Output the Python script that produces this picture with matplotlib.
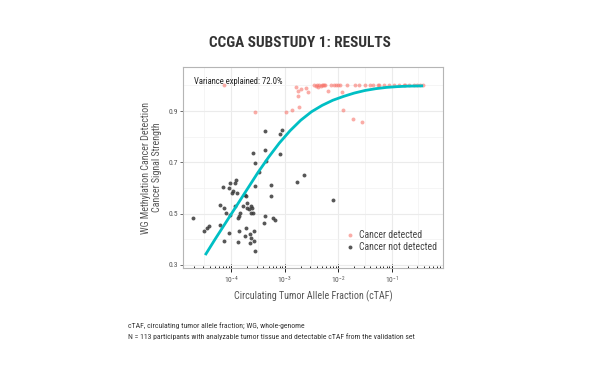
import numpy as np
import matplotlib
matplotlib.use("Agg")
import matplotlib.pyplot as plt
from matplotlib import font_manager

# ---------------- data ----------------
# log10(cTAF) and signal strength, cancer NOT detected
nd_log_ctaf = [-4.715, -4.503, -4.46, -4.412, -4.2, -4.2, -4.14, -4.15, -4.14, -4.097,
               -4.048, -4.03, -4.048, -4.018, -3.976, -3.958, -3.927, -3.909, -3.927, -3.885,
               -3.879, -3.855, -3.867, -3.855, -3.836, -3.776, -3.745, -3.733, -3.715, -3.703,
               -3.715, -3.697, -3.673, -3.655, -3.655, -3.636, -3.624, -3.624, -3.612, -3.594,
               -3.576, -3.576, -3.594, -3.564, -3.552, -3.564, -3.473, -3.37, -3.37, -3.382,
               -3.37, -3.352, -3.26, -3.26, -3.212, -3.18, -3.079, -3.048, -3.079, -2.764,
               -2.636, -2.09]
nd_signal = [0.483, 0.432, 0.444, 0.451, 0.457, 0.535, 0.522, 0.604, 0.393, 0.503,
             0.600, 0.619, 0.425, 0.496, 0.580, 0.587, 0.619, 0.630, 0.529, 0.580,
             0.483, 0.490, 0.389, 0.432, 0.503, 0.529, 0.412, 0.574, 0.567, 0.522,
             0.444, 0.541, 0.516, 0.419, 0.384, 0.406, 0.529, 0.503, 0.522, 0.503,
             0.432, 0.393, 0.738, 0.697, 0.606, 0.354, 0.664, 0.822, 0.749, 0.464,
             0.490, 0.705, 0.613, 0.567, 0.483, 0.474, 0.811, 0.824, 0.733, 0.622,
             0.652, 0.552]

# cancer detected
det_log_ctaf = [-4.127, -3.564, -2.97, -2.87, -2.79, -2.76, -2.745, -2.73, -2.69, -2.6,
                -2.56, -2.45, -2.42, -2.40, -2.38, -2.35, -2.33, -2.31, -2.29, -2.26,
                -2.24, -2.2, -2.14, -2.08, -2.04, -2.0, -1.96, -1.93, -1.91, -1.84,
                -1.73, -1.68, -1.62, -1.56, -1.50, -1.41, -1.35, -1.26, -1.23, -1.14,
                -1.05, -0.96, -0.87, -0.78, -0.75, -0.68, -0.59, -0.53, -0.47, -0.41]
det_signal = [1.001, 0.895, 0.897, 0.904, 0.994, 0.979, 0.958, 0.916, 0.985, 0.989,
              0.974, 1.001, 0.998, 1.001, 0.995, 1.001, 0.997, 1.001, 1.0, 1.001,
              1.001, 0.979, 1.001, 1.001, 1.001, 1.001, 1.001, 0.975, 0.904, 1.001,
              0.870, 1.001, 1.001, 0.858, 1.001, 1.001, 1.001, 1.001, 1.001, 1.001,
              1.001, 1.001, 1.001, 1.001, 1.001, 1.001, 1.001, 1.001, 1.001, 1.001]

# fitted curve, points
fit_log_ctaf = [-4.485, -4.3, -4.1, -3.9, -3.7, -3.5, -3.3, -3.1, -2.9, -2.7, -2.5,
                -2.3, -2.1, -1.9, -1.7, -1.5, -1.3, -1.1, -0.9, -0.7, -0.413]
fit_signal = [0.338, 0.400, 0.465, 0.530, 0.595, 0.660, 0.720, 0.775, 0.823, 0.864, 0.897,
              0.922, 0.942, 0.957, 0.970, 0.980, 0.987, 0.992, 0.995, 0.997, 0.998]

y_ticks = [0.3, 0.5, 0.7, 0.9]
x_decades = [-4, -3, -2, -1]

title = "CCGA SUBSTUDY 1: RESULTS"
annot = "Variance explained: 72.0%"
xlabel = "Circulating Tumor Allele Fraction (cTAF)"
ylabel = "WG Methylation Cancer Detection\nCancer Signal Strength"
legend_labels = ["Cancer detected", "Cancer not detected"]
foot1 = "cTAF, circulating tumor allele fraction; WG, whole-genome"
foot2 = "N = 113 participants with analyzable tumor tissue and detectable cTAF from the validation set"

# ---------------- fonts ----------------
ttf = font_manager.fontManager.ttflist
names = {f.name for f in ttf}
pref = ["Roboto Condensed", "Archivo Narrow", "PT Sans Narrow", "Fira Sans Condensed",
        "IBM Plex Sans Condensed", "Barlow Semi Condensed", "Sofia Sans Semi Condensed",
        "Sofia Sans Condensed", "Liberation Sans"]
body_font = next((p for p in pref if p in names), "DejaVu Sans")


def has_static_bold(name):
    return any(f.name == name and (f.weight in (700, 'bold')) and '[' not in f.fname
               for f in ttf)


title_pref = ["Roboto Condensed", "Archivo Narrow", "PT Sans Narrow", "Fira Sans Condensed",
              "IBM Plex Sans Condensed", "Barlow Semi Condensed", "Saira SemiCondensed",
              "Liberation Sans"]
title_font = next((p for p in title_pref if p in names and has_static_bold(p)), body_font)

plt.rcParams['font.family'] = [body_font, 'DejaVu Sans']
plt.rcParams['mathtext.fontset'] = 'custom'
plt.rcParams['mathtext.rm'] = body_font
plt.rcParams['mathtext.it'] = body_font

# ---------------- figure ----------------
fig = plt.figure(figsize=(6.0, 3.65), dpi=100)
ax = fig.add_axes([0.305, 0.266, 0.433, 0.550])

nd_x = np.power(10.0, nd_log_ctaf)
det_x = np.power(10.0, det_log_ctaf)
fit_x = np.power(10.0, fit_log_ctaf)

ax.scatter(det_x, det_signal, s=8, color="#F8766D", alpha=0.6, linewidths=0, zorder=3,
           label=legend_labels[0])
ax.scatter(nd_x, nd_signal, s=8, color="#3a3a3a", alpha=0.85, linewidths=0, zorder=3,
           label=legend_labels[1])
ax.plot(fit_x, fit_signal, color="#00BFC4", lw=2.0, zorder=4, solid_capstyle='butt',
        solid_joinstyle='round')

ax.set_xscale('log')
ax.set_xlim(10 ** -4.9, 10 ** -0.18)
ax.set_ylim(0.288, 1.071)

# grid (ggplot theme_bw style)
ax.set_yticks(y_ticks)
ax.set_yticks([t + 0.1 for t in y_ticks], minor=True)
ax.set_xticks([10.0 ** d for d in x_decades])
ax.set_xticklabels([r"$\mathregular{10^{%d}}$" % d for d in x_decades])
minor_x = [m * 10.0 ** d for d in range(-5, 0) for m in range(2, 10)]
ax.set_xticks(minor_x, minor=True)
ax.set_xticklabels([], minor=True)
ax.set_axisbelow(True)
ax.grid(True, which='major', color="#ebebeb", lw=0.8)
ax.grid(True, which='minor', axis='y', color="#f2f2f2", lw=0.5)
for d in range(-5, 0):
    ax.axvline(10.0 ** (d + 0.5), color="#f2f2f2", lw=0.5, zorder=0)

ax.tick_params(axis='y', which='major', length=2, width=0.6, color="#555555",
               labelsize=5.5, labelcolor="#555555", pad=1.5)
ax.tick_params(axis='y', which='minor', length=0)
ax.tick_params(axis='x', which='major', direction='inout', length=6, width=0.7,
               color="#222222", labelsize=5.5, labelcolor="#555555", pad=2)
ax.tick_params(axis='x', which='minor', direction='in', length=1.8, width=0.7,
               color="#222222")
for sp in ax.spines.values():
    sp.set_color("#b5b5b5")
    sp.set_linewidth(0.8)

ax.text(0.043, 0.93, annot, transform=ax.transAxes, fontsize=6.2, color="#222222",
        va='center', ha='left')

ax.set_xlabel(xlabel, fontsize=7.2, color="#555555", labelpad=3)
ax.set_ylabel(ylabel, fontsize=7.2, color="#555555", labelpad=5, linespacing=1.05)

leg = ax.legend(loc='lower right', bbox_to_anchor=(1.0, 0.05), frameon=False,
                fontsize=7.0, handletextpad=0.3, labelspacing=0.25, markerscale=1.0,
                borderaxespad=0.2, handlelength=1.2)
for t in leg.get_texts():
    t.set_color("#444444")

fig.text(0.5, 0.883, title, fontsize=11, fontweight='bold', color="#333333",
         ha='center', va='center', family=[title_font, 'DejaVu Sans'])
fig.text(0.213, 0.108, foot1, fontsize=5.6, color="#333333", ha='left', va='center')
fig.text(0.213, 0.078, foot2, fontsize=5.6, color="#333333", ha='left', va='center')

fig.savefig("out.png", dpi=100, facecolor='white')
